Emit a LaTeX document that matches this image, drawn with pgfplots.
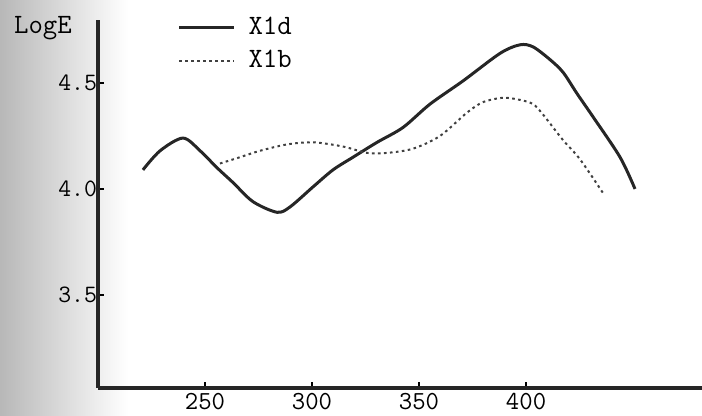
\documentclass[border=0pt]{standalone}
\usepackage{fontspec}
\usepackage{pgfplots}
\pgfplotsset{compat=1.18}
\begin{document}
\begin{tikzpicture}
\useasboundingbox (-49pt,-14pt) rectangle (302pt,194pt);
\shade[left color=black!28, right color=white] (-49pt,-14pt) rectangle (15pt,194pt);
\begin{axis}[
 scale only axis, width=302pt, height=184pt,
 xmin=200, xmax=482.2, ymin=3.061, ymax=4.797,
 axis x line=bottom, axis y line=left,
 axis line style={-, line width=2pt, black!85},
 xtick={250,300,350,400}, ytick={3.5,4.0,4.5},
 yticklabel style={/pgf/number format/fixed,/pgf/number format/fixed zerofill,/pgf/number format/precision=1},
 /pgf/number format/assume math mode=true,
 tick align=inside, major tick length=3pt, tick style={line width=1pt, black},
 ticklabel style={font=\ttfamily\fontsize{13}{15}\selectfont, text=black},
 yticklabel style={font=\ttfamily\fontsize{12.5}{15}\selectfont, xshift=3pt},
 xticklabel style={yshift=1pt},
 legend style={draw=none, fill=none, at={(rel axis cs:0.131,1.02)}, anchor=north west,
   font=\ttfamily\fontsize{14}{16}\selectfont, row sep=2.5pt, inner sep=0pt, text=black},
 legend cell align=left,
 legend image code/.code={\draw[#1] (0pt,0pt) -- (27.5pt,0pt); \path (32pt,0pt);},
 clip=false,
]
\addplot[smooth, tension=0.5, line width=1.5pt, black!85] coordinates {
(221.0,4.09) (229.0,4.18) (239.7,4.24) (247.7,4.18) (255.6,4.10) (263.1,4.03)
(272.4,3.94) (283.6,3.89) (289.7,3.915) (300.5,4.01) (309.8,4.09) (319.2,4.15)
(330.4,4.22) (342.5,4.29) (355.1,4.40) (370.6,4.51) (387.9,4.64) (397.2,4.68)
(403.3,4.67) (411.2,4.61) (417.3,4.55) (423.8,4.45) (431.3,4.34) (443.9,4.15) (450.9,4.00)
};
\addlegendentry{X1d}
\addplot[smooth, tension=0.5, line width=1pt, black!75, dash pattern=on 1.3pt off 1.7pt] coordinates {
(257.0,4.12) (266.4,4.15) (275.7,4.18) (288.3,4.21) (300.5,4.22) (314.5,4.20)
(325.7,4.17) (335.0,4.17) (347.2,4.19) (359.8,4.25) (372.4,4.36) (380.0,4.41)
(389.3,4.43) (397.2,4.42) (403.3,4.40) (408.0,4.35) (417.3,4.23) (425.2,4.14) (436.0,3.98)
};
\addlegendentry{X1b}
\end{axis}
\node[font=\ttfamily\fontsize{14}{16}\selectfont, text=black] at (-27.5pt,180pt) {LogE};
\end{tikzpicture}
\end{document}
